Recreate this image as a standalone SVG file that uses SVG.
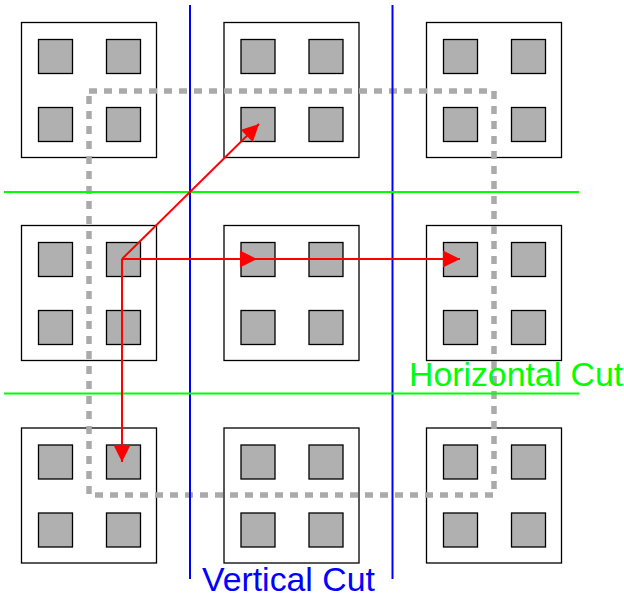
<svg xmlns="http://www.w3.org/2000/svg" width="624" height="597" viewBox="0 0 624 597">
  <style>
    .blk { fill: #ffffff; stroke: #000000; stroke-width: 1.3; }
    .pad { fill: #b0b0b0; stroke: #000000; stroke-width: 1.3; }
    .vcut { stroke: #0000ff; stroke-width: 2; fill: none; }
    .hcut { stroke: #00ff00; stroke-width: 2; fill: none; }
    .win { fill: none; stroke: #aaaaaa; stroke-width: 5.5; stroke-dasharray: 8 7; }
    .arr { stroke: #ff0000; stroke-width: 2; fill: none; marker-end: url(#head); }
    .lbl { font-family: "Liberation Sans", Arial, sans-serif; font-size: 33.8px; }
  </style>
  <defs>
    <marker id="head" markerUnits="userSpaceOnUse" markerWidth="18" markerHeight="18" viewBox="0 0 17 18" refX="17" refY="9" orient="auto">
      <polygon points="0,0.5 17,9 0,17.5" fill="#ff0000"/>
    </marker>
    <g id="cell">
      <rect class="blk" x="0" y="0" width="135" height="135"/>
      <rect class="pad" x="17" y="17" width="34" height="34"/>
      <rect class="pad" x="85" y="17" width="34" height="34"/>
      <rect class="pad" x="17" y="85" width="34" height="34"/>
      <rect class="pad" x="85" y="85" width="34" height="34"/>
    </g>
  </defs>

  <!-- 3x3 grid of blocks, each holding four pads -->
  <g id="block-r1c1" transform="translate(21.5,22.5)"><use href="#cell"/></g>
  <g id="block-r1c2" transform="translate(224,22.5)"><use href="#cell"/></g>
  <g id="block-r1c3" transform="translate(426.5,22.5)"><use href="#cell"/></g>
  <g id="block-r2c1" transform="translate(21.5,225.5)"><use href="#cell"/></g>
  <g id="block-r2c2" transform="translate(224,225.5)"><use href="#cell"/></g>
  <g id="block-r2c3" transform="translate(426.5,225.5)"><use href="#cell"/></g>
  <g id="block-r3c1" transform="translate(21.5,428)"><use href="#cell"/></g>
  <g id="block-r3c2" transform="translate(224,428)"><use href="#cell"/></g>
  <g id="block-r3c3" transform="translate(426.5,428)"><use href="#cell"/></g>

  <!-- dashed window -->
  <g id="window">
    <rect class="win" x="89" y="91" width="405" height="404"/>
  </g>

  <!-- cut lines -->
  <g id="cuts">
    <line class="vcut" x1="190" y1="5" x2="190" y2="579"/>
    <line class="vcut" x1="392.5" y1="5" x2="392.5" y2="579"/>
    <line class="hcut" x1="4" y1="192" x2="579" y2="192"/>
    <line class="hcut" x1="4" y1="393.5" x2="579" y2="393.5"/>
  </g>

  <!-- connectors from the centre-left pad -->
  <g id="connectors">
    <line class="arr" x1="122" y1="259" x2="259" y2="124"/>
    <line class="arr" x1="122" y1="259" x2="257" y2="259"/>
    <line class="arr" x1="122" y1="259" x2="460" y2="259"/>
    <line class="arr" x1="122" y1="259" x2="122" y2="462"/>
  </g>

  <g id="labels">
    <text class="lbl" x="409" y="386" fill="#00ff00">Horizontal Cut</text>
    <text class="lbl" x="202" y="591" fill="#0000ff">Vertical Cut</text>
  </g>
</svg>
